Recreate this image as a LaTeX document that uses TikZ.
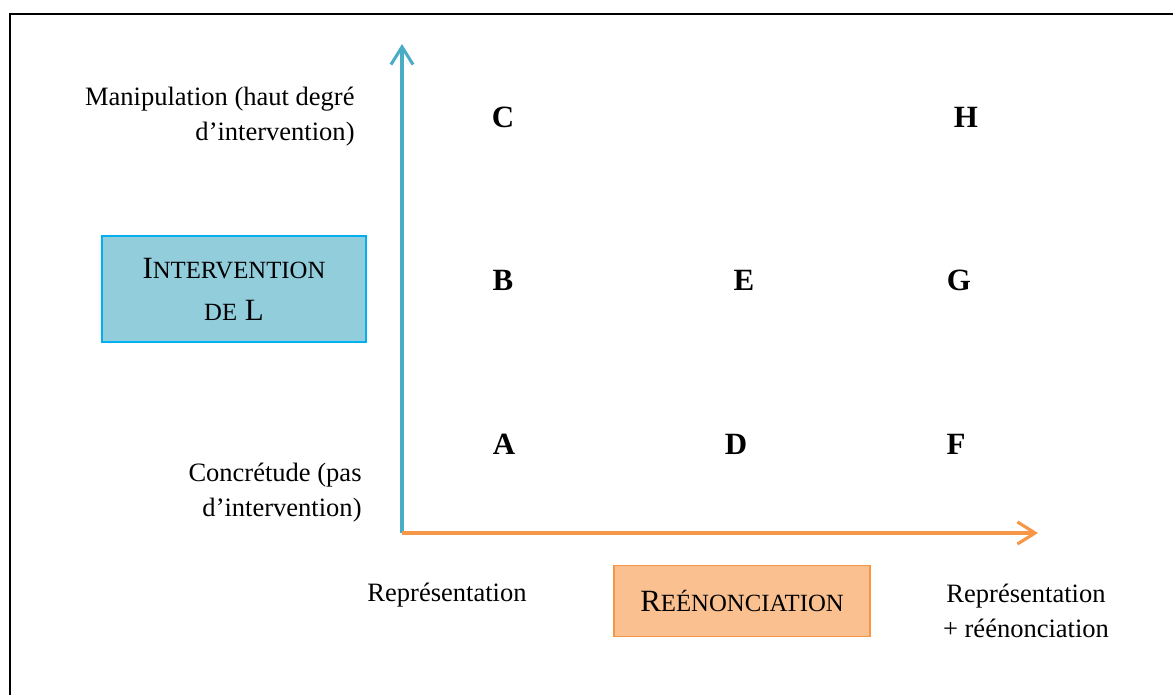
\documentclass[tikz,border=0pt]{standalone}
\usepackage{fontspec}
\setmainfont{Liberation Serif}
\usetikzlibrary{arrows.meta}

\definecolor{axisblue}{HTML}{4BACC6}
\definecolor{axisorange}{HTML}{F79646}
\definecolor{boxblue}{HTML}{92CDDC}
\definecolor{edgeblue}{HTML}{00B0F0}
\definecolor{boxorange}{HTML}{FAC090}

% fake small caps, as the word processor does
\newcommand{\smcap}[1]{{\fontsize{11.2}{19}\selectfont #1}}

\begin{document}
\begin{tikzpicture}[x=0.4525pt, y=-0.4525pt,
    lbl/.style={font=\fontsize{12}{15.9}\selectfont, inner sep=0pt},
    cell/.style={font=\fontsize{14}{17}\selectfont\bfseries, inner sep=0pt},
    axisline/.style={line width=1.4pt, -{Straight Barb[length=8pt, width=10pt]}},
    titlebox/.style={draw, line width=0.8pt, font=\fontsize{14}{19}\selectfont,
        align=center, inner sep=0pt}]
    \useasboundingbox (0,0) rectangle (1173,695);

    % frame (only top and left edges are visible)
    \draw[line width=1.2pt] (10,695) -- (10,14) -- (1173,14);

    % axes
    \coordinate (origin) at (402,533);
    \coordinate (ytip) at (402,44);
    \coordinate (xtip) at (1038,533);
    \draw[axisline, axisblue] (origin) -- (ytip);
    \draw[axisline, axisorange] (origin) -- (xtip);

    % levels of intervention
    \node[lbl, anchor=east, align=right] (manip) at (355,117)
        {Manipulation (haut degré\\d’intervention)};
    \node[lbl, anchor=east, align=right] (concr) at (362,493)
        {Concrétude (pas\\d’intervention)};
    \node[titlebox, fill=boxblue, draw=edgeblue,
        minimum width=119.5pt, minimum height=48pt] (interv) at (234,289)
        {I\smcap{NTERVENTION}\\\smcap{DE} L};

    % kinds of task
    \node[lbl] (repr) at (447,595) {Représentation};
    \node[titlebox, fill=boxorange, draw=axisorange,
        minimum width=115.8pt, minimum height=32.1pt] (reen) at (742,601)
        {R\smcap{EÉNONCIATION}};
    \node[lbl, align=center] (reprreen) at (1026,611)
        {Représentation\\+ réénonciation};

    % cells
    \node[cell] (C) at (503,117) {C};
    \node[cell] (H) at (966,117) {H};
    \node[cell] (B) at (503,280) {B};
    \node[cell] (E) at (744,280) {E};
    \node[cell] (G) at (959,280) {G};
    \node[cell] (A) at (504,444) {A};
    \node[cell] (D) at (736,444) {D};
    \node[cell] (F) at (956,444) {F};
\end{tikzpicture}
\end{document}
